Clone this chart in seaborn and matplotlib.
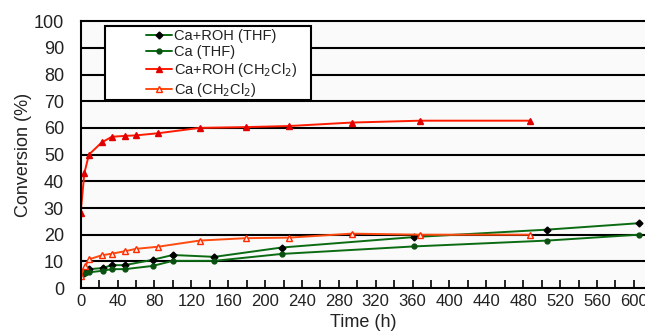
import matplotlib
matplotlib.use("Agg")
import matplotlib.pyplot as plt
import seaborn as sns
import pandas as pd
from matplotlib.ticker import MultipleLocator
from matplotlib.patches import Rectangle

# ---- data ----
t_roh_thf = [0, 3.6, 6.5, 9.3, 23.8, 34, 48, 78, 100, 145, 218, 361, 506, 605]
v_roh_thf = [5.6, 5.8, 6.5, 7.1, 7.5, 8.6, 8.6, 10.6, 12.4, 11.7, 15.2, 19.1, 21.9, 24.3]

t_ca_thf = [0, 4.7, 9.3, 23.8, 34, 48, 78, 100, 145, 218, 361, 506, 605]
v_ca_thf = [5.2, 5.6, 5.9, 6.5, 7.1, 7.1, 8.3, 10.2, 10.2, 12.8, 15.6, 17.8, 20.0]

t_roh_dcm = [0, 4, 9, 23, 34, 48, 60, 84, 129, 179, 226, 294, 368, 487]
v_roh_dcm = [28, 43, 50, 54.6, 56.7, 57, 57.2, 58, 60, 60.3, 60.7, 62, 62.7, 62.7]

t_ca_dcm = [0, 4.7, 9.3, 23, 34, 48, 60, 84, 129, 179, 226, 294, 368, 487]
v_ca_dcm = [4.6, 8.1, 10.8, 12.3, 12.9, 13.8, 14.7, 15.5, 17.8, 18.7, 18.9, 20.4, 20.0, 20.0]

labels = ["Ca+ROH (THF)", "Ca (THF)", "Ca+ROH (CH$_2$Cl$_2$)", "Ca (CH$_2$Cl$_2$)"]
x_ticks = list(range(0, 601, 40))
y_ticks = list(range(0, 101, 10))

sns.set_theme(style="white")
plt.rcParams["font.family"] = ["Liberation Sans", "DejaVu Sans"]

fig = plt.figure(figsize=(6.45, 3.35), dpi=100)
ax = fig.add_axes([0.125, 0.140, 0.875, 0.797])
ax.set_facecolor("#fafafa")

series = [
    (t_roh_thf, v_roh_thf, dict(color="#0a6b12", marker="D", markersize=3.5,
                                markerfacecolor="black", markeredgecolor="black")),
    (t_ca_thf, v_ca_thf, dict(color="#0a6b12", marker="o", markersize=3.5,
                              markerfacecolor="#0a5010", markeredgecolor="#0a5010")),
    (t_roh_dcm, v_roh_dcm, dict(color="#ff1a00", marker="^", markersize=5,
                                markerfacecolor="#e00000", markeredgecolor="#e00000")),
    (t_ca_dcm, v_ca_dcm, dict(color="#ff4a10", marker="^", markersize=5,
                              markerfacecolor="#fff0e8", markeredgecolor="#ff2a00")),
]

for (t, v, st), lab in zip(series, labels):
    df = pd.DataFrame({"t": t, "v": v})
    sns.lineplot(data=df, x="t", y="v", ax=ax, label=lab, linewidth=1.4,
                 markeredgewidth=1.0, **st)

ax.set_xlim(0, 612)
ax.set_ylim(0, 100)
ax.set_xticks(x_ticks)
ax.xaxis.set_minor_locator(MultipleLocator(20))
ax.set_yticks(y_ticks)

for y in y_ticks[1:-1]:
    ax.axhline(y, color="black", linewidth=1.5, zorder=0.5)

for s in ["left", "bottom", "top"]:
    ax.spines[s].set_color("black")
    ax.spines[s].set_linewidth(1.5)
ax.spines["right"].set_visible(False)

ax.tick_params(axis="x", which="major", direction="in", length=6, width=1.2,
               colors="black", labelsize=12, pad=4, bottom=True)
ax.tick_params(axis="x", which="minor", direction="in", length=6, width=1.2,
               colors="black", bottom=True)
ax.tick_params(axis="y", which="major", length=0, labelsize=13, pad=12,
               colors="black", left=True)
for lbl in ax.get_xticklabels() + ax.get_yticklabels():
    lbl.set_color("#222222")

ax.set_xlabel("Time (h)", fontsize=13, color="#222222", labelpad=4)
ax.set_ylabel("Conversion (%)", fontsize=13, color="#222222", labelpad=1)

# legend box (as in the reference: wide frame, entries indented)
frame = Rectangle((105 / 645, 1 - 100 / 335), 206 / 645, 74 / 335,
                  transform=fig.transFigure, facecolor="white",
                  edgecolor="black", linewidth=1.5, zorder=9, clip_on=False)
ax.add_patch(frame)

leg = ax.legend(loc="upper left", bbox_to_anchor=(146 / 645, 1 - 29 / 335),
                bbox_transform=fig.transFigure, fontsize=10.5,
                frameon=False, handlelength=1.8, handletextpad=0.15,
                labelspacing=0.14, borderpad=0, borderaxespad=0)
leg.set_zorder(10)
for txt in leg.get_texts():
    txt.set_color("#222222")

fig.savefig("out.png", dpi=100)
